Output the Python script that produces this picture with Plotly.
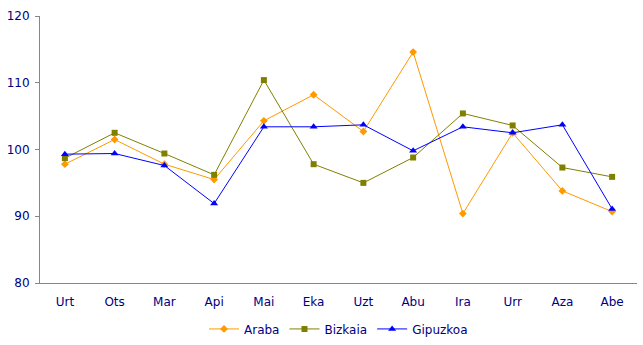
import plotly.graph_objects as go

months = ["Urt", "Ots", "Mar", "Api", "Mai", "Eka", "Uzt", "Abu", "Ira", "Urr", "Aza", "Abe"]

araba = [97.8, 101.5, 97.8, 95.5, 104.3, 108.2, 102.7, 114.6, 90.4, 102.5, 93.8, 90.7]
bizkaia = [98.7, 102.5, 99.4, 96.2, 110.4, 97.8, 95.0, 98.8, 105.4, 103.6, 97.3, 95.9]
gipuzkoa = [99.3, 99.4, 97.6, 91.9, 103.4, 103.4, 103.7, 99.8, 103.4, 102.5, 103.7, 91.1]

y_ticks = [80, 90, 100, 110, 120]

text_color = "#000080"
axis_color = "#868686"

fig = go.Figure()

series = [
    ("Araba", araba, "#FF9900", "diamond", 6),
    ("Bizkaia", bizkaia, "#808000", "square", 6),
    ("Gipuzkoa", gipuzkoa, "#0000FF", "triangle-up", 7),
]

for name, vals, color, symbol, size in series:
    fig.add_trace(go.Scatter(
        x=months, y=vals, name=name, mode="lines+markers",
        line=dict(color=color, width=1),
        marker=dict(symbol=symbol, size=size, color=color),
    ))

fig.update_layout(
    width=643, height=345,
    margin=dict(l=40, r=6, t=16, b=62, autoexpand=False),
    paper_bgcolor="white", plot_bgcolor="white",
    font=dict(family="DejaVu Sans", size=11, color=text_color),
    showlegend=True,
    legend=dict(
        orientation="h", x=0.5, xanchor="center", y=-0.172, yanchor="middle",
        font=dict(family="DejaVu Sans", size=12, color=text_color),
        itemwidth=30, tracegroupgap=0,
    ),
)

fig.update_xaxes(
    type="category", range=[-0.5, 11.5],
    showline=True, linecolor=axis_color, linewidth=1,
    showgrid=False, ticks="", zeroline=False,
    ticklabelstandoff=8,
    tickfont=dict(family="DejaVu Sans", size=12, color=text_color),
)

fig.update_yaxes(
    range=[80, 120], tickvals=y_ticks,
    showline=True, linecolor=axis_color, linewidth=1,
    showgrid=False, ticks="outside", ticklen=4, tickcolor=axis_color,
    zeroline=False, ticklabelstandoff=3,
    tickfont=dict(family="DejaVu Sans", size=12, color=text_color),
)

fig.write_html("out.html")
